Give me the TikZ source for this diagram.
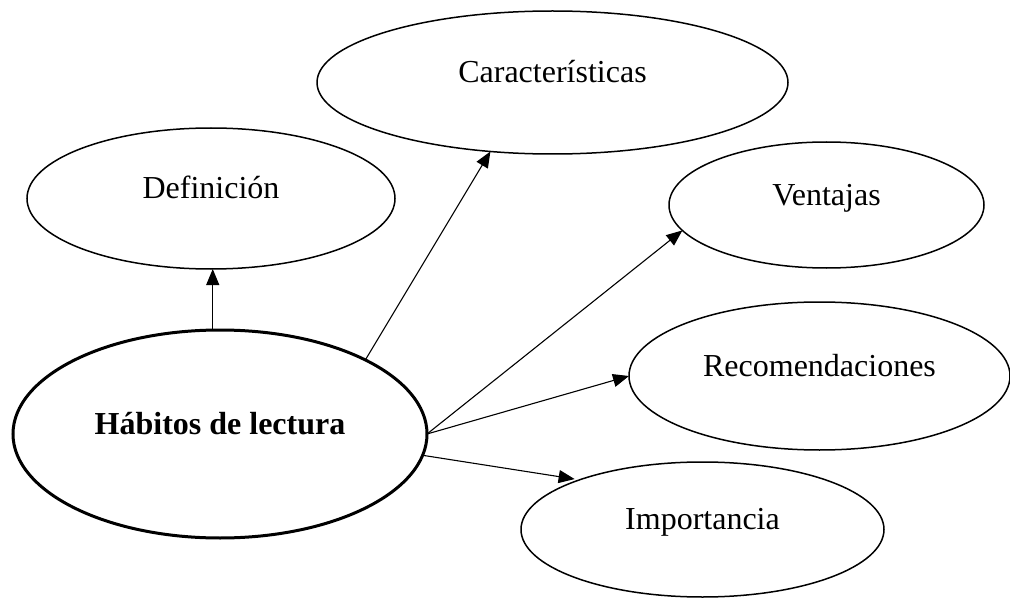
\documentclass[tikz,border=0pt]{standalone}
\usepackage{fontspec}
\setmainfont{Liberation Serif}
\usetikzlibrary{shapes.geometric,arrows.meta}
\begin{document}
\begin{tikzpicture}[x=1pt,y=-1pt,
  ell/.style={draw,ellipse,line width=1.5pt,inner sep=0pt,outer sep=0pt},
  lbl/.style={anchor=base,inner sep=0pt,font=\fontsize{32}{38}\selectfont},
  conn/.style={line width=1.1pt,-{Triangle[length=16pt,width=13pt]}}]
\useasboundingbox (0,0) rectangle (1010,599);
\node[ell,line width=3pt,minimum width=414pt,minimum height=208pt] (hab) at (220,434) {};
\node[ell,minimum width=368pt,minimum height=141pt] (def) at (211,198.5) {};
\node[ell,minimum width=471pt,minimum height=143pt] (car) at (552.5,82.5) {};
\node[ell,minimum width=315pt,minimum height=126pt] (ven) at (826.5,205) {};
\node[ell,minimum width=381pt,minimum height=148pt] (rec) at (819.5,376) {};
\node[ell,minimum width=363pt,minimum height=135pt] (imp) at (702.5,529.5) {};
\node[lbl,font=\fontsize{32}{38}\selectfont\bfseries] (habt) at (hab.center) {Hábitos de lectura};
\node[lbl] (deft) at (def.center) {Definición};
\node[lbl] (cart) at (car.center) {Características};
\node[lbl] (vent) at (ven.center) {Ventajas};
\node[lbl] (rect) at (rec.center) {Recomendaciones};
\node[lbl] (impt) at (imp.center) {Importancia};
\draw[conn] (hab.94) -- (hab.94 |- def.south);
\draw[conn] (hab.27) -- (car.-132);
\draw[conn] (hab.0) -- (ven.190);
\draw[conn] (hab.0) -- (rec.180);
\draw[conn,shorten >=5pt] (hab.-6.7) -- (imp.158);
\end{tikzpicture}
\end{document}
